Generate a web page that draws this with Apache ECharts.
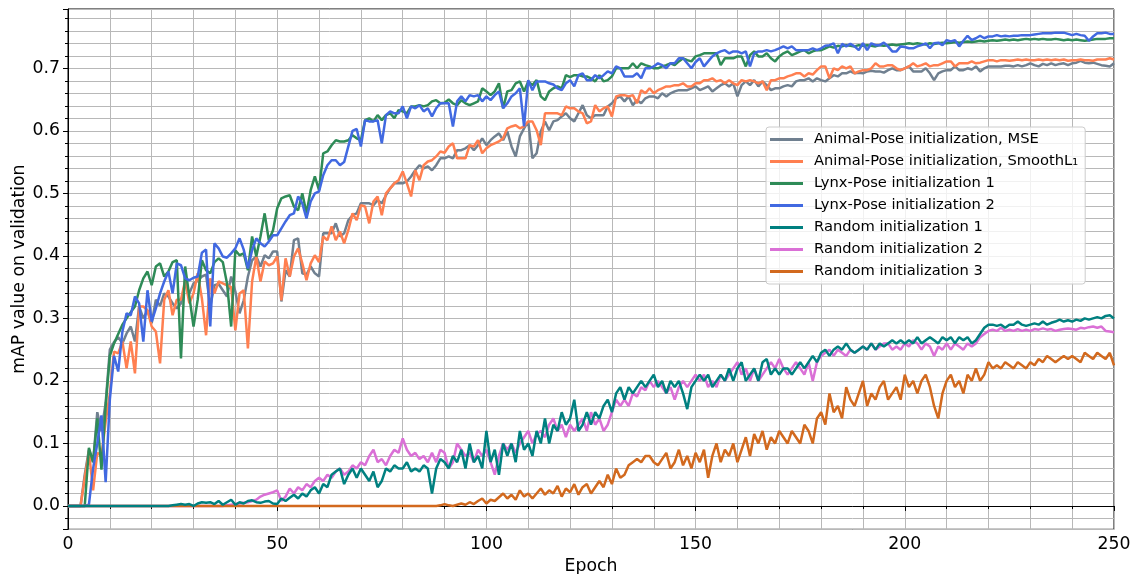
<!DOCTYPE html>
<html><head><meta charset="utf-8">
<script src="https://cdn.jsdelivr.net/npm/echarts@6/dist/echarts.min.js"></script>
<style>html,body{margin:0;padding:0;background:#fff}#c{width:1133px;height:574px}</style>
</head><body><div id="c"></div>
<script>
const seriesNames = [
  'Animal-Pose initialization, MSE',
  'Animal-Pose initialization, SmoothL\u2081',
  'Lynx-Pose initialization 1',
  'Lynx-Pose initialization 2',
  'Random initialization 1',
  'Random initialization 2',
  'Random initialization 3'
];
const seriesColors = ['#708090','#FF7F50','#2E8B57','#4169E1','#008080','#DA70D6','#D2691E'];

const animalMSE = [
0,0,0,0,0.05,0.09,0.07,0.15,0.12,0.165,
0.25,0.262,0.27,0.26,0.276,0.287,0.263,0.319,0.30,0.313,
0.292,0.33,0.32,0.34,0.335,0.324,0.316,0.324,0.356,0.34,
0.356,0.36,0.367,0.37,0.319,0.353,0.355,0.345,0.335,0.367,
0.343,0.308,0.329,0.367,0.393,0.399,0.383,0.401,0.396,0.407,
0.407,0.327,0.377,0.367,0.425,0.428,0.372,0.37,0.383,0.372,
0.367,0.436,0.436,0.436,0.452,0.431,0.436,0.457,0.465,0.468,
0.484,0.484,0.484,0.481,0.489,0.484,0.497,0.508,0.516,0.516,
0.516,0.519,0.527,0.537,0.545,0.54,0.543,0.537,0.545,0.556,
0.556,0.559,0.556,0.569,0.569,0.572,0.577,0.569,0.577,0.588,
0.577,0.585,0.591,0.596,0.585,0.599,0.575,0.559,0.591,0.604,
0.615,0.556,0.564,0.599,0.615,0.601,0.615,0.617,0.623,0.628,
0.62,0.615,0.628,0.641,0.625,0.62,0.625,0.625,0.625,0.639,
0.644,0.652,0.655,0.647,0.655,0.641,0.649,0.644,0.652,0.655,
0.655,0.652,0.66,0.655,0.66,0.663,0.665,0.665,0.665,0.668,
0.671,0.665,0.668,0.671,0.663,0.668,0.673,0.676,0.671,0.676,
0.655,0.673,0.679,0.673,0.681,0.671,0.679,0.673,0.665,0.668,
0.668,0.671,0.673,0.671,0.679,0.681,0.681,0.684,0.679,0.684,
0.681,0.679,0.684,0.689,0.687,0.692,0.692,0.695,0.692,0.693,
0.692,0.695,0.696,0.695,0.695,0.693,0.697,0.700,0.697,0.697,
0.700,0.703,0.695,0.695,0.695,0.700,0.692,0.681,0.692,0.695,
0.697,0.697,0.703,0.697,0.697,0.700,0.698,0.703,0.695,0.700,
0.703,0.703,0.703,0.703,0.704,0.704,0.703,0.705,0.703,0.705,
0.708,0.705,0.703,0.707,0.705,0.708,0.705,0.707,0.708,0.705,
0.708,0.709,0.712,0.709,0.708,0.709,0.707,0.705,0.704,0.703,0.708
];

const animalSmoothL1 = [
0,0,0,0,0.045,0.087,0.025,0.085,0.08,0.135,
0.18,0.247,0.244,0.263,0.22,0.263,0.212,0.319,0.319,0.313,
0.287,0.279,0.228,0.33,0.345,0.305,0.33,0.33,0.36,0.324,
0.34,0.372,0.332,0.273,0.364,0.34,0.359,0.356,0.353,0.35,
0.281,0.34,0.345,0.252,0.359,0.399,0.359,0.391,0.385,0.388,
0.399,0.329,0.396,0.367,0.399,0.412,0.388,0.361,0.388,0.401,
0.39,0.431,0.425,0.447,0.425,0.439,0.42,0.441,0.468,0.457,
0.481,0.479,0.452,0.487,0.495,0.465,0.50,0.508,0.516,0.521,
0.535,0.516,0.495,0.537,0.521,0.545,0.551,0.553,0.559,0.567,
0.565,0.575,0.58,0.556,0.556,0.556,0.577,0.575,0.585,0.564,
0.572,0.577,0.58,0.583,0.588,0.604,0.607,0.609,0.604,0.607,
0.615,0.615,0.601,0.577,0.628,0.628,0.628,0.628,0.625,0.639,
0.636,0.636,0.631,0.628,0.612,0.615,0.641,0.631,0.636,0.639,
0.623,0.655,0.657,0.657,0.655,0.657,0.644,0.665,0.66,0.668,
0.66,0.665,0.668,0.671,0.671,0.673,0.673,0.676,0.671,0.671,
0.676,0.676,0.681,0.681,0.684,0.679,0.681,0.676,0.681,0.676,
0.673,0.681,0.679,0.681,0.679,0.676,0.679,0.665,0.681,0.681,
0.684,0.684,0.687,0.689,0.692,0.692,0.687,0.692,0.69,0.697,
0.703,0.703,0.684,0.700,0.697,0.703,0.700,0.703,0.692,0.695,
0.697,0.697,0.700,0.708,0.703,0.703,0.705,0.705,0.700,0.697,
0.700,0.703,0.708,0.703,0.705,0.708,0.703,0.705,0.705,0.708,
0.711,0.711,0.703,0.708,0.708,0.708,0.711,0.708,0.709,0.711,
0.713,0.713,0.711,0.713,0.713,0.712,0.713,0.714,0.713,0.714,
0.713,0.713,0.714,0.713,0.714,0.713,0.714,0.713,0.714,0.712,
0.713,0.713,0.714,0.713,0.713,0.712,0.714,0.714,0.714,0.716,0.714
];

const lynx1 = [
0,0,0,0,0,0.093,0.07,0.14,0.058,0.16,
0.24,0.26,0.275,0.29,0.30,0.31,0.319,0.345,0.364,0.375,
0.353,0.383,0.388,0.367,0.375,0.39,0.393,0.236,0.383,0.335,
0.287,0.33,0.393,0.377,0.372,0.39,0.396,0.39,0.356,0.287,
0.409,0.401,0.404,0.377,0.431,0.399,0.431,0.468,0.425,0.441,
0.476,0.492,0.495,0.497,0.479,0.473,0.50,0.468,0.505,0.527,
0.505,0.564,0.567,0.577,0.585,0.583,0.583,0.585,0.593,0.588,
0.585,0.617,0.62,0.615,0.625,0.617,0.625,0.628,0.62,0.633,
0.631,0.628,0.639,0.639,0.641,0.639,0.641,0.647,0.649,0.644,
0.645,0.65,0.644,0.641,0.649,0.644,0.641,0.644,0.647,0.668,
0.663,0.657,0.663,0.676,0.636,0.663,0.665,0.676,0.679,0.663,
0.679,0.673,0.681,0.655,0.649,0.663,0.668,0.671,0.668,0.689,
0.686,0.689,0.689,0.687,0.687,0.684,0.679,0.689,0.679,0.681,
0.687,0.70,0.70,0.70,0.70,0.708,0.70,0.708,0.705,0.703,
0.70,0.70,0.703,0.705,0.708,0.705,0.711,0.716,0.713,0.711,
0.719,0.721,0.724,0.724,0.724,0.724,0.705,0.716,0.716,0.716,
0.719,0.719,0.703,0.721,0.727,0.719,0.719,0.724,0.716,0.711,
0.719,0.724,0.727,0.721,0.724,0.727,0.729,0.724,0.727,0.729,
0.729,0.732,0.735,0.733,0.736,0.735,0.737,0.736,0.735,0.737,
0.736,0.737,0.736,0.735,0.737,0.736,0.737,0.738,0.737,0.738,
0.739,0.740,0.739,0.740,0.739,0.738,0.740,0.739,0.740,0.741,
0.740,0.741,0.742,0.741,0.742,0.743,0.742,0.743,0.744,0.743,
0.744,0.745,0.744,0.745,0.746,0.745,0.746,0.745,0.746,0.747,
0.746,0.747,0.746,0.747,0.746,0.746,0.747,0.746,0.745,0.746,
0.745,0.746,0.745,0.744,0.745,0.746,0.747,0.747,0.747,0.748,0.748
];

const lynx2 = [
0,0,0,0,0,0.002,0.06,0.1,0.145,0.038,
0.17,0.24,0.215,0.279,0.308,0.305,0.335,0.324,0.263,0.345,
0.295,0.316,0.34,0.359,0.375,0.34,0.388,0.385,0.364,0.361,
0.365,0.367,0.405,0.41,0.287,0.42,0.412,0.399,0.397,0.404,
0.412,0.428,0.41,0.38,0.409,0.428,0.42,0.415,0.423,0.433,
0.433,0.444,0.455,0.465,0.468,0.495,0.484,0.46,0.487,0.50,
0.503,0.529,0.545,0.553,0.553,0.545,0.55,0.575,0.60,0.603,
0.575,0.617,0.615,0.615,0.617,0.58,0.625,0.631,0.628,0.628,
0.639,0.62,0.639,0.636,0.641,0.631,0.636,0.623,0.636,0.644,
0.644,0.644,0.607,0.647,0.655,0.647,0.657,0.655,0.657,0.647,
0.655,0.649,0.657,0.663,0.636,0.644,0.655,0.66,0.668,0.607,
0.681,0.665,0.679,0.679,0.679,0.676,0.674,0.668,0.665,0.676,
0.681,0.671,0.689,0.692,0.681,0.681,0.689,0.684,0.689,0.695,
0.692,0.703,0.70,0.687,0.687,0.687,0.692,0.684,0.70,0.70,
0.703,0.708,0.705,0.70,0.708,0.708,0.716,0.716,0.708,0.70,
0.71,0.716,0.703,0.711,0.719,0.724,0.727,0.729,0.724,0.727,
0.727,0.724,0.727,0.703,0.724,0.727,0.727,0.729,0.727,0.729,
0.732,0.735,0.732,0.735,0.729,0.729,0.729,0.729,0.732,0.729,
0.732,0.736,0.737,0.740,0.724,0.739,0.735,0.739,0.735,0.729,
0.740,0.729,0.740,0.737,0.737,0.741,0.735,0.727,0.727,0.735,
0.734,0.732,0.732,0.735,0.737,0.740,0.732,0.740,0.741,0.737,
0.745,0.743,0.745,0.735,0.744,0.752,0.745,0.748,0.752,0.748,
0.751,0.751,0.753,0.751,0.752,0.751,0.752,0.752,0.753,0.753,
0.753,0.754,0.755,0.756,0.756,0.756,0.757,0.757,0.757,0.755,
0.753,0.755,0.753,0.752,0.744,0.751,0.756,0.756,0.757,0.755,0.755
];

const random1 = [
0,0,0,0,0,0,0,0,0,0,
0,0,0,0,0,0,0,0,0,0,
0,0,0,0,0,0.001,0.002,0.003,0.002,0.003,
0,0.004,0.006,0.005,0.006,0.003,0.008,0.002,0.006,0.01,
0.002,0.006,0.004,0.008,0.009,0.006,0.005,0.007,0.008,0.004,
0.003,0.012,0.008,0.013,0.018,0.012,0.02,0.015,0.025,0.03,
0.02,0.035,0.03,0.05,0.055,0.06,0.035,0.05,0.06,0.045,
0.06,0.05,0.04,0.055,0.03,0.04,0.06,0.055,0.065,0.06,
0.06,0.07,0.055,0.06,0.055,0.065,0.06,0.02,0.06,0.075,
0.07,0.06,0.08,0.07,0.09,0.06,0.1,0.07,0.08,0.06,
0.12,0.07,0.09,0.05,0.1,0.08,0.1,0.07,0.12,0.09,
0.1,0.08,0.12,0.1,0.14,0.1,0.13,0.12,0.15,0.13,
0.14,0.17,0.12,0.13,0.15,0.13,0.15,0.14,0.16,0.17,
0.15,0.18,0.19,0.17,0.19,0.18,0.19,0.2,0.19,0.2,
0.21,0.19,0.2,0.18,0.2,0.19,0.2,0.18,0.155,0.19,
0.2,0.21,0.2,0.21,0.19,0.2,0.21,0.2,0.22,0.2,
0.22,0.23,0.2,0.21,0.22,0.2,0.23,0.235,0.21,0.22,
0.21,0.22,0.22,0.21,0.22,0.23,0.22,0.23,0.24,0.23,
0.245,0.25,0.24,0.25,0.255,0.25,0.26,0.25,0.245,0.25,
0.255,0.25,0.26,0.25,0.26,0.255,0.26,0.265,0.26,0.265,
0.26,0.265,0.26,0.27,0.26,0.265,0.27,0.265,0.26,0.27,
0.265,0.27,0.26,0.27,0.265,0.27,0.26,0.265,0.275,0.285,
0.29,0.29,0.288,0.29,0.285,0.29,0.29,0.295,0.29,0.288,
0.29,0.292,0.29,0.295,0.29,0.293,0.295,0.298,0.295,0.297,
0.295,0.298,0.296,0.3,0.298,0.3,0.302,0.3,0.304,0.305,0.3
];

const random2 = [
0,0,0,0,0,0,0,0,0,0,
0,0,0,0,0,0,0,0,0,0,
0,0,0,0,0,0,0,0,0,0,
0,0,0,0,0,0,0,0,0.001,0.002,
0.003,0.004,0.005,0.006,0.008,0.01,0.015,0.018,0.02,0.022,
0.025,0.008,0.015,0.028,0.02,0.03,0.025,0.035,0.03,0.04,
0.045,0.04,0.05,0.045,0.055,0.06,0.05,0.055,0.065,0.06,
0.07,0.065,0.08,0.09,0.07,0.075,0.065,0.08,0.09,0.085,
0.108,0.09,0.08,0.085,0.075,0.08,0.07,0.085,0.07,0.09,
0.085,0.06,0.07,0.1,0.09,0.08,0.085,0.07,0.09,0.08,
0.09,0.07,0.05,0.08,0.1,0.09,0.1,0.085,0.1,0.11,
0.12,0.1,0.115,0.12,0.11,0.13,0.14,0.12,0.13,0.11,
0.13,0.12,0.13,0.14,0.12,0.15,0.13,0.14,0.12,0.13,
0.15,0.17,0.16,0.17,0.16,0.18,0.175,0.19,0.185,0.2,
0.19,0.2,0.19,0.18,0.19,0.17,0.19,0.2,0.19,0.2,
0.21,0.2,0.21,0.19,0.2,0.19,0.21,0.2,0.21,0.22,
0.23,0.21,0.22,0.2,0.22,0.2,0.21,0.22,0.23,0.22,
0.235,0.22,0.21,0.22,0.23,0.22,0.21,0.23,0.2,0.23,
0.24,0.245,0.25,0.24,0.25,0.245,0.24,0.25,0.245,0.25,
0.255,0.25,0.26,0.25,0.255,0.26,0.26,0.25,0.255,0.25,
0.26,0.255,0.265,0.26,0.25,0.26,0.255,0.24,0.255,0.25,
0.26,0.25,0.26,0.255,0.25,0.26,0.255,0.26,0.27,0.275,
0.28,0.282,0.28,0.285,0.28,0.282,0.28,0.283,0.28,0.282,
0.28,0.283,0.282,0.284,0.282,0.283,0.28,0.282,0.283,0.284,
0.283,0.282,0.285,0.284,0.286,0.287,0.285,0.287,0.28,0.279,0.278
];

const random3 = [
0,0,0,0,0,0,0,0,0,0,
0,0,0,0,0,0,0,0,0,0,
0,0,0,0,0,0,0,0,0,0,
0,0,0,0,0,0,0,0,0,0,
0,0,0,0,0,0,0,0,0,0,
0,0,0,0,0,0,0,0,0,0,
0,0,0,0,0,0,0,0,0,0,
0,0,0,0,0,0,0,0,0,0,
0,0,0,0,0,0,0,0,0,0.001,
0.003,0.001,0,0.002,0.004,0.002,0.006,0.003,0.008,0.012,
0.004,0.01,0.008,0.014,0.02,0.012,0.018,0.01,0.025,0.015,
0.02,0.012,0.02,0.028,0.018,0.025,0.02,0.032,0.015,0.028,
0.022,0.035,0.018,0.03,0.035,0.02,0.03,0.04,0.03,0.05,
0.035,0.06,0.045,0.05,0.065,0.07,0.075,0.07,0.08,0.08,
0.07,0.065,0.075,0.085,0.06,0.07,0.09,0.065,0.08,0.06,
0.085,0.07,0.09,0.045,0.08,0.1,0.07,0.09,0.08,0.1,
0.07,0.09,0.11,0.08,0.115,0.1,0.12,0.09,0.11,0.1,
0.12,0.11,0.1,0.12,0.11,0.1,0.13,0.12,0.1,0.14,
0.15,0.13,0.18,0.15,0.16,0.14,0.19,0.17,0.16,0.18,
0.2,0.16,0.18,0.17,0.19,0.2,0.17,0.18,0.19,0.17,
0.21,0.19,0.2,0.18,0.2,0.21,0.19,0.16,0.14,0.18,
0.2,0.21,0.19,0.2,0.18,0.21,0.2,0.22,0.2,0.21,
0.23,0.22,0.225,0.22,0.23,0.225,0.22,0.23,0.225,0.22,
0.23,0.225,0.235,0.23,0.24,0.235,0.23,0.235,0.24,0.235,
0.24,0.235,0.23,0.245,0.24,0.235,0.245,0.24,0.235,0.245,0.225
];

const seriesValues = [animalMSE, animalSmoothL1, lynx1, lynx2, random1, random2, random3];
// draw order (last on top), legend keeps the original order
const drawOrder = [0, 1, 2, 3, 5, 6, 4];

const FONT = 'DejaVu Sans';
const chart = echarts.init(document.getElementById('c'), null, {renderer: 'canvas'});

const series = drawOrder.map(k => ({
  name: seriesNames[k],
  type: 'line',
  data: seriesValues[k].map((v, i) => [i, v]),
  showSymbol: false,
  symbol: 'none',
  color: seriesColors[k],
  lineStyle: {width: 2.5, color: seriesColors[k]},
  itemStyle: {color: seriesColors[k]},
  emphasis: {disabled: true},
  animation: false
}));

const gridColor = '#b8b8b8';
chart.setOption({
  animation: false,
  backgroundColor: '#fff',
  grid: {left: 68, top: 9, width: 1046, height: 520.3, show: true, borderColor: '#000', borderWidth: 1,
         backgroundColor: 'transparent', containLabel: false, outerBoundsMode: 'none'},
  xAxis: {
    type: 'value', min: 0, max: 250, interval: 50,
    name: 'Epoch', nameLocation: 'middle', nameGap: 29, nameMoveOverlap: false,
    nameTextStyle: {fontFamily: FONT, fontSize: 17.3, color: '#000'},
    axisLine: {show: true, lineStyle: {color: '#000', width: 1}},
    axisTick: {show: true, length: 5, lineStyle: {color: '#000', width: 1}},
    minorTick: {show: true, splitNumber: 5, length: 3, lineStyle: {color: '#000', width: 1}},
    splitLine: {show: true, lineStyle: {color: gridColor, width: 1}},
    minorSplitLine: {show: true, lineStyle: {color: gridColor, width: 1}},
    axisLabel: {fontFamily: FONT, fontSize: 17.3, color: '#000', margin: 7}
  },
  yAxis: {
    type: 'value', min: -0.0373, max: 0.7948, splitNumber: 8,
    name: 'mAP value on validation', nameLocation: 'middle', nameGap: 40, nameMoveOverlap: false,
    nameTextStyle: {fontFamily: FONT, fontSize: 17.3, color: '#000'},
    axisLine: {show: true, lineStyle: {color: '#000', width: 1}},
    axisTick: {show: true, length: 5, lineStyle: {color: '#000', width: 1}},
    minorTick: {show: true, splitNumber: 5, length: 3, lineStyle: {color: '#000', width: 1}},
    splitLine: {show: true, lineStyle: {color: gridColor, width: 1}},
    minorSplitLine: {show: true, lineStyle: {color: gridColor, width: 1}},
    axisLabel: {
      fontFamily: FONT, fontSize: 17.3, color: '#000', margin: 8,
      showMinLabel: false, showMaxLabel: false,
      formatter: function (v) {
        const r = Math.round(v * 10);
        return Math.abs(v * 10 - r) < 1e-6 ? (r / 10).toFixed(1) : '';
      }
    }
  },
  legend: {
    orient: 'vertical', left: 766, top: 127,
    data: seriesNames, icon: 'rect', itemWidth: 33, itemHeight: 3, itemGap: 7,
    padding: [5, 7, 5, 4],
    backgroundColor: 'rgba(255,255,255,0.8)', borderColor: '#cccccc', borderWidth: 1, borderRadius: 3,
    textStyle: {fontFamily: FONT, fontSize: 14.7, color: '#000', lineHeight: 15, padding: [0, 0, 0, 6]},
    selectedMode: false, z: 10
  },
  series: series
});
</script>
</body></html>
